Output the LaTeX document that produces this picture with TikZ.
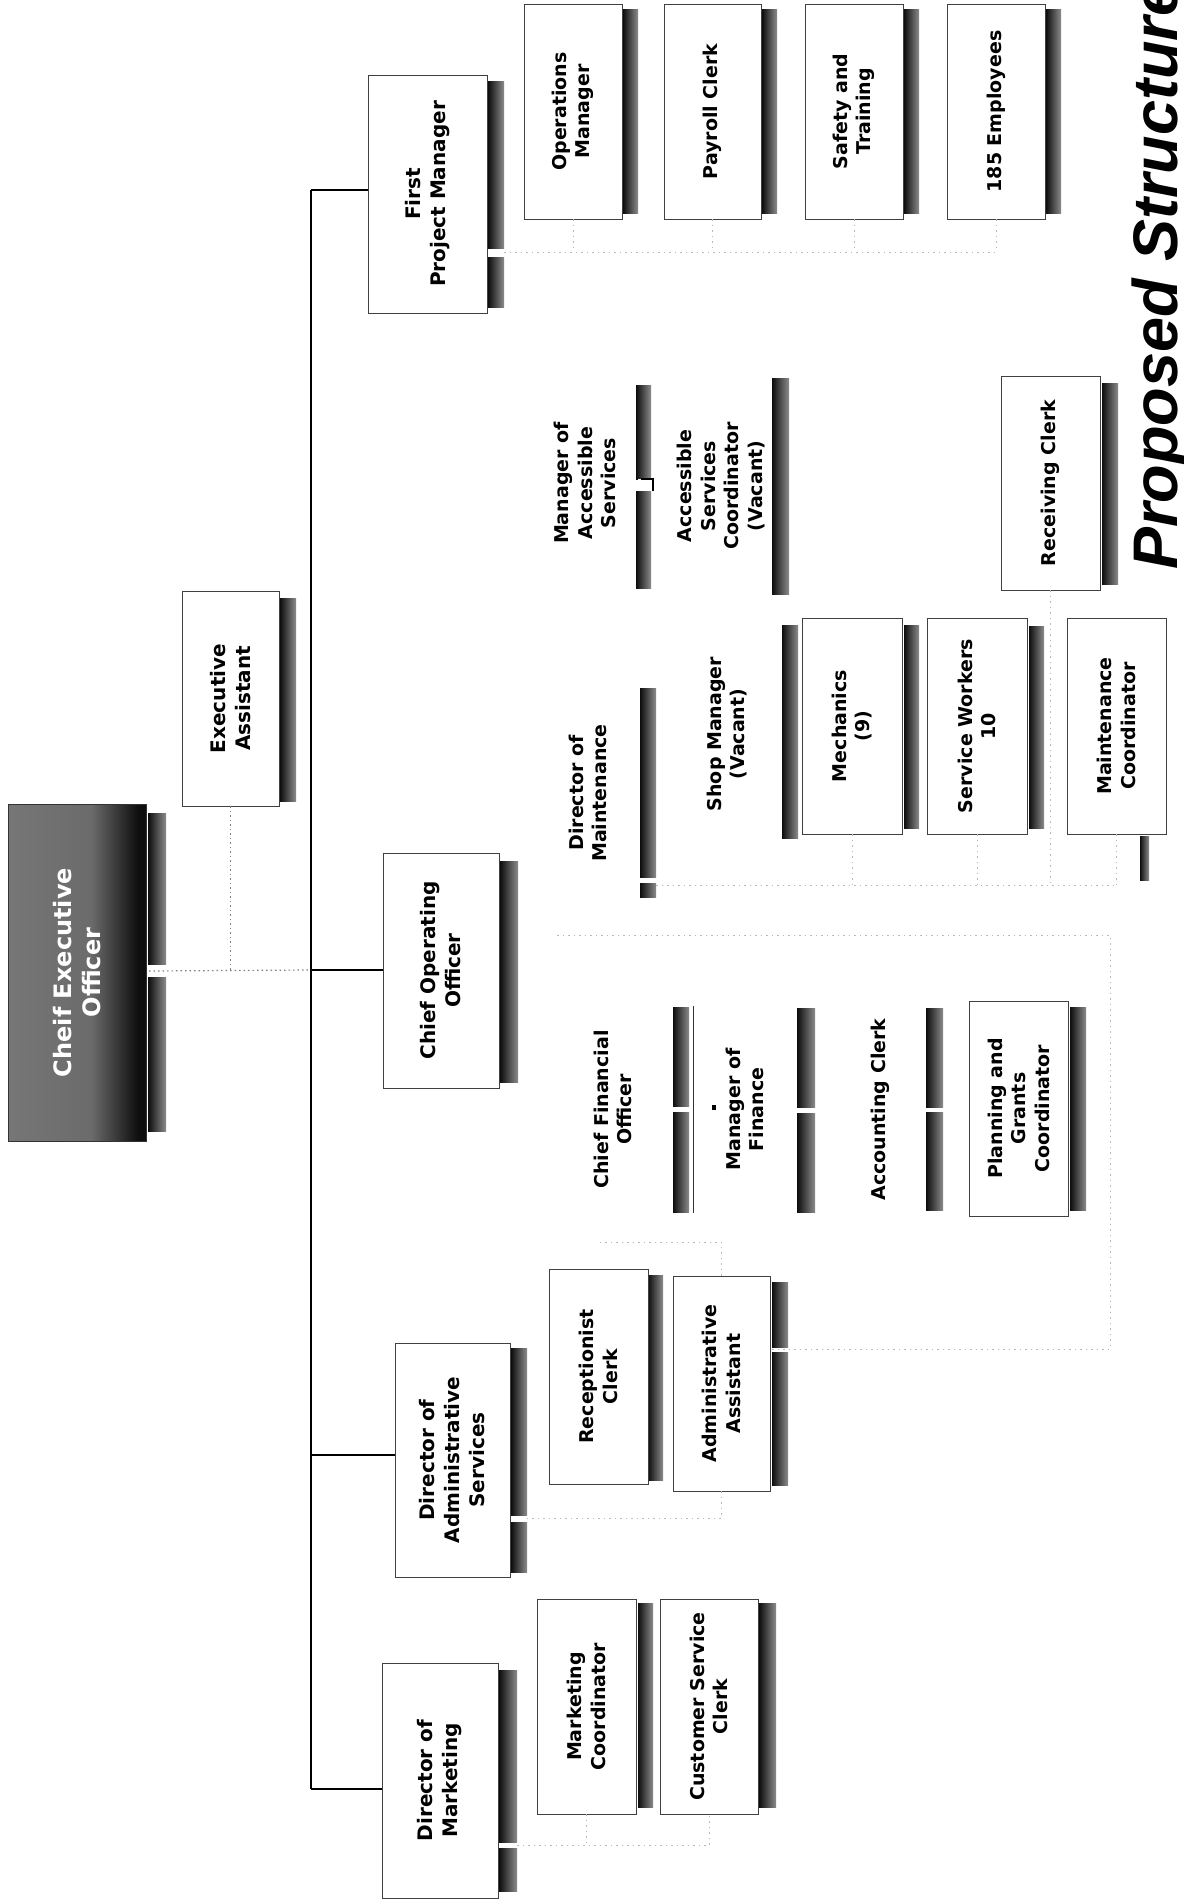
\documentclass[tikz,border=0pt]{standalone}
\usepackage{fontspec}
\setmainfont{DejaVu Sans}
\newfontfamily\titlefont{Liberation Sans}
\usetikzlibrary{fit,calc}
\pgfdeclarehorizontalshading{ceoshade}{100bp}{color(0bp)=(black!50); color(55bp)=(black!58); color(72bp)=(black!94); color(100bp)=(black)}
\tikzset{
  pbox/.style={draw=black!75, line width=0.9pt, fill=white, inner sep=0pt},
  nobox/.style={inner sep=0pt},
  shadowst/.style={left color=black!95, right color=black!45, draw=none},
  lblthree/.style={rotate=90, align=center, font=\fontsize{19}{23.5}\selectfont\bfseries},
  lbltwo/.style={rotate=90, align=center, font=\fontsize{20}{25}\selectfont\bfseries},
  lblceo/.style={rotate=90, align=center, text=white, font=\fontsize{24}{29}\selectfont\bfseries},
  trunk/.style={line width=2.2pt, black},
  faint/.style={draw=black!28, line width=1pt, dash pattern=on 1.5pt off 4pt},
  eadot/.style={draw=black!50, line width=1.2pt, dash pattern=on 1.5pt off 3pt},
}
\begin{document}
\begin{tikzpicture}[x=1pt,y=-1pt]
\useasboundingbox (0,0) rectangle (1183,1900);
\fill[white] (0,0) rectangle (1183,1900);
\clip (0,0) rectangle (1183,1900);

% title
\node[rotate=90, anchor=base west, inner sep=0pt, font={\titlefont\fontsize{63}{70}\selectfont\bfseries\itshape}] (title) at (1177,570) {Proposed Structure};

% ---------- shadows ----------
\shade[shadowst] (148,813) rectangle (166,964);
\shade[shadowst] (148,977) rectangle (166,1131);
\shade[shadowst] (280,598) rectangle (296,801);
\shade[shadowst] (488,82) rectangle (504,248);
\shade[shadowst] (488,257) rectangle (504,307);
\shade[shadowst] (500,861) rectangle (518,1082);
\shade[shadowst] (511,1348) rectangle (527,1515);
\shade[shadowst] (511,1522) rectangle (527,1572);
\shade[shadowst] (499,1670) rectangle (517,1842);
\shade[shadowst] (499,1848) rectangle (517,1891);
\shade[shadowst] (623,10) rectangle (638,213);
\shade[shadowst] (762,10) rectangle (777,213);
\shade[shadowst] (904,10) rectangle (919,213);
\shade[shadowst] (1046,10) rectangle (1061,213);
\shade[shadowst] (636,385) rectangle (651,479);
\shade[shadowst] (636,491) rectangle (651,588);
\shade[shadowst] (772,378) rectangle (789,594);
\shade[shadowst] (1102,383) rectangle (1118,584);
\shade[shadowst] (640,688) rectangle (656,877);
\shade[shadowst] (640,883) rectangle (656,897);
\shade[shadowst] (782,625) rectangle (798,838);
\shade[shadowst] (904,625) rectangle (919,828);
\shade[shadowst] (1029,626) rectangle (1044,828);
\shade[shadowst] (1140,836) rectangle (1149,880);
\shade[shadowst] (673,1007) rectangle (689,1106);
\shade[shadowst] (673,1112) rectangle (689,1212);
\shade[shadowst] (797,1008) rectangle (815,1107);
\shade[shadowst] (797,1113) rectangle (815,1212);
\shade[shadowst] (926,1008) rectangle (943,1107);
\shade[shadowst] (926,1112) rectangle (943,1210);
\shade[shadowst] (1070,1007) rectangle (1086,1210);
\shade[shadowst] (648,1275) rectangle (663,1480);
\shade[shadowst] (772,1282) rectangle (788,1347);
\shade[shadowst] (772,1352) rectangle (788,1485);
\shade[shadowst] (638,1603) rectangle (653,1807);
\shade[shadowst] (759,1603) rectangle (776,1807);

% ---------- boxes ----------
\node[fit={(8,804) (146,1141)}, inner sep=0pt, shade, shading=ceoshade, draw=black!80, line width=0.9pt] (ceo) {};
\node[lblceo] (ceo-t) at (ceo.center) {Cheif Executive\\Officer};

\node[pbox, fit={(182,591) (279,806)}] (ea) {};
\node[lbltwo] (ea-t) at (ea.center) {Executive\\Assistant};

\node[pbox, fit={(368,75) (487,313)}] (fpm) {};
\node[lbltwo] (fpm-t) at (fpm.center) {First\\Project Manager};
\node[pbox, fit={(383,853) (499,1088)}] (coo) {};
\node[lbltwo] (coo-t) at (coo.center) {Chief Operating\\Officer};
\node[pbox, fit={(395,1343) (510,1577)}] (das) {};
\node[lbltwo] (das-t) at (das.center) {Director of\\Administrative\\Services};
\node[pbox, fit={(382,1663) (498,1898)}] (dm) {};
\node[lbltwo] (dm-t) at (dm.center) {Director of\\Marketing};

% first project manager group
\node[pbox, fit={(524,4) (622,219)}] (om) {};
\node[lblthree] (om-t) at (om.center) {Operations\\Manager};
\node[pbox, fit={(664,4) (761,219)}] (pc) {};
\node[lblthree] (pc-t) at (pc.center) {Payroll Clerk};
\node[pbox, fit={(805,4) (903,219)}] (st) {};
\node[lblthree] (st-t) at (st.center) {Safety and\\Training};
\node[pbox, fit={(947,4) (1045,219)}] (emp) {};
\node[lblthree] (emp-t) at (emp.center) {185 Employees};

% chief operating officer group
\node[nobox, fit={(536,378) (634,588)}] (moas) {};
\node[lblthree] (moas-t) at (moas.center) {Manager of\\Accessible\\Services};
\node[nobox, fit={(672,378) (770,594)}] (asc) {};
\node[lblthree] (asc-t) at (asc.center) {Accessible\\Services\\Coordinator\\(Vacant)};
\node[pbox, fit={(1001,376) (1100,590)}] (rc) {};
\node[lblthree] (rc-t) at (rc.center) {Receiving Clerk};

\node[nobox, fit={(538,690) (638,896)}] (dom) {};
\node[lblthree] (dom-t) at (dom.center) {Director of\\Maintenance};
\node[nobox, fit={(676,625) (778,843)}] (sm) {};
\node[lblthree] (sm-t) at (sm.center) {Shop Manager\\(Vacant)};
\node[pbox, fit={(802,618) (902,834)}] (mech) {};
\node[lblthree] (mech-t) at (mech.center) {Mechanics\\(9)};
\node[pbox, fit={(927,618) (1027,834)}] (sw) {};
\node[lblthree] (sw-t) at (sw.center) {Service Workers\\10};
\node[pbox, fit={(1067,618) (1166,834)}] (mc) {};
\node[lblthree] (mc-t) at (mc.center) {Maintenance\\Coordinator};

\node[nobox, fit={(556,1006) (670,1213)}] (cfo) {};
\node[lblthree] (cfo-t) at (cfo.center) {Chief Financial\\Officer};
\node[nobox, fit={(694,1006) (796,1213)}] (mof) {};
\node[lblthree] (mof-t) at (mof.center) {Manager of\\Finance};
\draw[line width=1pt, black!80] (mof.north west) -- (mof.south west);
\node[nobox, fit={(836,1006) (924,1213)}] (ac) {};
\node[lblthree] (ac-t) at (ac.center) {Accounting Clerk};
\node[pbox, fit={(969,1001) (1068,1216)}] (pgc) {};
\node[lblthree] (pgc-t) at (pgc.center) {Planning and\\Grants\\Coordinator};

% administrative services group
\node[pbox, fit={(549,1269) (648,1484)}] (recc) {};
\node[lblthree] (recc-t) at (recc.center) {Receptionist\\Clerk};
\node[pbox, fit={(673,1276) (770,1491)}] (aa) {};
\node[lblthree] (aa-t) at (aa.center) {Administrative\\Assistant};

% marketing group
\node[pbox, fit={(537,1599) (636,1814)}] (mkc) {};
\node[lblthree] (mkc-t) at (mkc.center) {Marketing\\Coordinator};
\node[pbox, fit={(660,1599) (758,1814)}] (csc) {};
\node[lblthree] (csc-t) at (csc.center) {Customer Service\\Clerk};

% ---------- main connectors ----------
\coordinate (tTop) at (311,190);
\coordinate (tCOO) at (311,970);
\coordinate (tDAS) at (311,1455);
\coordinate (tBot) at (311,1789);
\draw[trunk] (tTop) -- (tBot);
\draw[trunk] (tTop) -- (tTop -| fpm.west);
\draw[trunk] (tCOO) -- (tCOO -| coo.west);
\draw[trunk] (tDAS) -- (tDAS -| das.west);
\draw[trunk] (tBot) -- (tBot -| dm.west);

% CEO and assistant (faded)
\coordinate (ceoj) at (149,971);
\draw[eadot] (ceoj) -- (tCOO);
\draw[eadot] (ea.south) -- (ea.south |- ceoj);

% small connector marks
\fill[white] (638,479) rectangle (653,491);
\draw[line width=1.2pt] (641,479) -- (653,479) -- (653,491);
\fill[black] (712,1105) rectangle (716,1110);

% ---------- faded connectors ----------
\coordinate (fj) at (504,252);
\draw[faint] (fj) -- (fj -| emp.south);
\foreach \b in {om,pc,st,emp} { \draw[faint] (\b.south) -- (\b.south |- fj); }

\coordinate (mj) at (656,885);
\draw[faint] (mj) -- (mj -| mc.south);
\foreach \b in {mech,sw,mc} { \draw[faint] (\b.south) -- (\b.south |- mj); }
\draw[faint] (rc.south) -- (rc.south |- mj);

\coordinate (cj) at (557,935);
\coordinate (aj) at (1110,1349);
\draw[faint] (cj) -- (aj |- cj) -- (aj) -- (aa.east |- aj);

\coordinate (aat) at (725,1242);
\draw[faint] (aa.north) -- (aa.north |- aat) -- (aat -| recc.center);
\coordinate (dasj) at (527,1518);
\draw[faint] (aa.south) -- (aa.south |- dasj) -- (dasj);

\coordinate (dmj) at (517,1845);
\draw[faint] (dmj) -- (dmj -| csc.south) -- (csc.south);
\draw[faint] (mkc.south) -- (mkc.south |- dmj);
\end{tikzpicture}
\end{document}
